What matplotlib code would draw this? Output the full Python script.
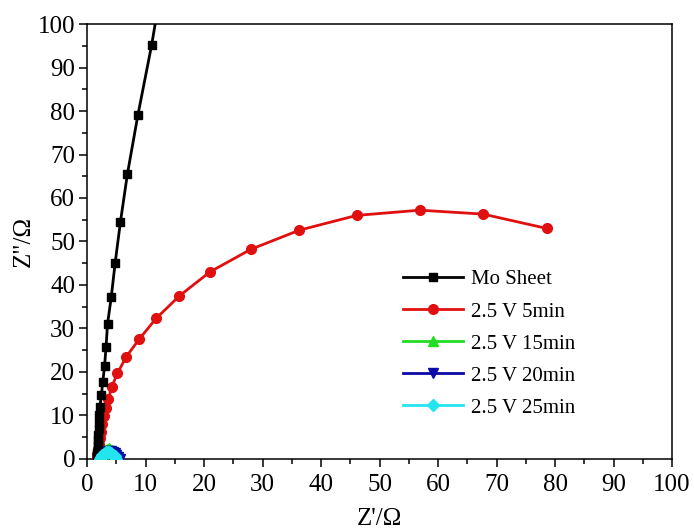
import matplotlib.pyplot as plt
import numpy as np

plt.rcParams["font.family"] = ["Liberation Serif", "DejaVu Serif"]

# Mo Sheet
mo_x = [1.7, 1.72, 1.75, 1.78, 1.8, 1.83, 1.86, 1.9, 1.95, 2.0, 2.05, 2.1, 2.2,
        2.45, 2.7, 3.0, 3.25, 3.5, 4.15, 4.8, 5.7, 6.9, 8.7, 11.05, 13.4]
mo_y = [0.2, 0.5, 0.9, 1.4, 2.0, 2.7, 3.5, 4.4, 5.5, 6.8, 8.3, 10.0, 12.0,
        14.7, 17.8, 21.4, 25.7, 31.0, 37.3, 45.0, 54.4, 65.5, 79.1, 95.2, 114.0]

# 2.5 V 5min
r5_x = [1.65, 1.75, 1.85, 2.0, 2.15, 2.35, 2.6, 2.9, 3.25, 3.65, 4.2, 5.2,
        6.7, 8.95, 11.8, 15.8, 21.0, 28.0, 36.3, 46.1, 56.9, 67.7, 78.6]
r5_y = [0.3, 1.1, 2.2, 3.4, 4.8, 6.3, 8.0, 9.8, 11.7, 13.7, 16.5, 19.7,
        23.5, 27.6, 32.3, 37.5, 43.0, 48.2, 52.6, 56.0, 57.2, 56.3, 53.0]

# 2.5 V 15min
g15_x = [2.5, 2.7, 2.9, 3.1, 3.4, 3.7, 4.0, 4.3, 4.6, 4.8, 5.0]
g15_y = [0.3, 1.0, 1.6, 2.1, 2.4, 2.5, 2.4, 2.0, 1.4, 0.8, 0.2]

# 2.5 V 20min
b20_x = [2.6, 2.9, 3.2, 3.5, 3.8, 4.1, 4.4, 4.7, 5.0, 5.3, 5.6]
b20_y = [0.1, 0.6, 1.1, 1.5, 1.8, 1.8, 1.7, 1.4, 1.0, 0.5, 0.1]

# 2.5 V 25min
c25_x = [2.2, 2.4, 2.6, 2.9, 3.2, 3.5, 3.8, 4.1, 4.4, 4.7, 5.0]
c25_y = [0.1, 0.5, 0.9, 1.2, 1.5, 1.6, 1.5, 1.3, 1.0, 0.6, 0.1]

fig = plt.figure(figsize=(6.94, 5.30), dpi=100)
ax = fig.add_axes([0.1254, 0.134, 0.8429, 0.8207])

ax.plot(mo_x, mo_y, "-s", color="black", lw=2, ms=6, label="Mo Sheet", zorder=4)
ax.plot(r5_x, r5_y, "-o", color="#e01010", lw=2, ms=7, label="2.5 V 5min", zorder=3)
ax.plot(g15_x, g15_y, "-^", color="#22dd22", lw=2, ms=7, label="2.5 V 15min", zorder=5)
ax.plot(b20_x, b20_y, "-v", color="#0a0aa8", lw=2, ms=7, label="2.5 V 20min", zorder=5)
ax.plot(c25_x, c25_y, "-D", color="#22e5f0", lw=2, ms=6, label="2.5 V 25min", zorder=5)

ax.set_xlim(0, 100)
ax.set_ylim(0, 100)
ax.set_xticks(np.arange(0, 101, 10))
ax.set_yticks(np.arange(0, 101, 10))
ax.set_xticks(np.arange(5, 100, 10), minor=True)
ax.set_yticks(np.arange(5, 100, 10), minor=True)
ax.tick_params(which="major", direction="out", length=5.5, width=1.1, labelsize=18)
ax.tick_params(axis="x", which="major", pad=5)
ax.tick_params(axis="y", which="major", pad=3)
ax.tick_params(which="minor", direction="out", length=3.5, width=1.1)
for s in ax.spines.values():
    s.set_linewidth(1.1)

ax.set_xlabel("Z'/Ω", fontsize=18, labelpad=9)
ax.set_ylabel('Z"/Ω', fontsize=18, labelpad=2)

ax.legend(loc="upper left", bbox_to_anchor=(0.526, 0.454), frameon=False,
          fontsize=15, handlelength=2.9, handletextpad=0.34, labelspacing=0.6,
          borderaxespad=0.0)

fig.savefig("out.png", dpi=100)
